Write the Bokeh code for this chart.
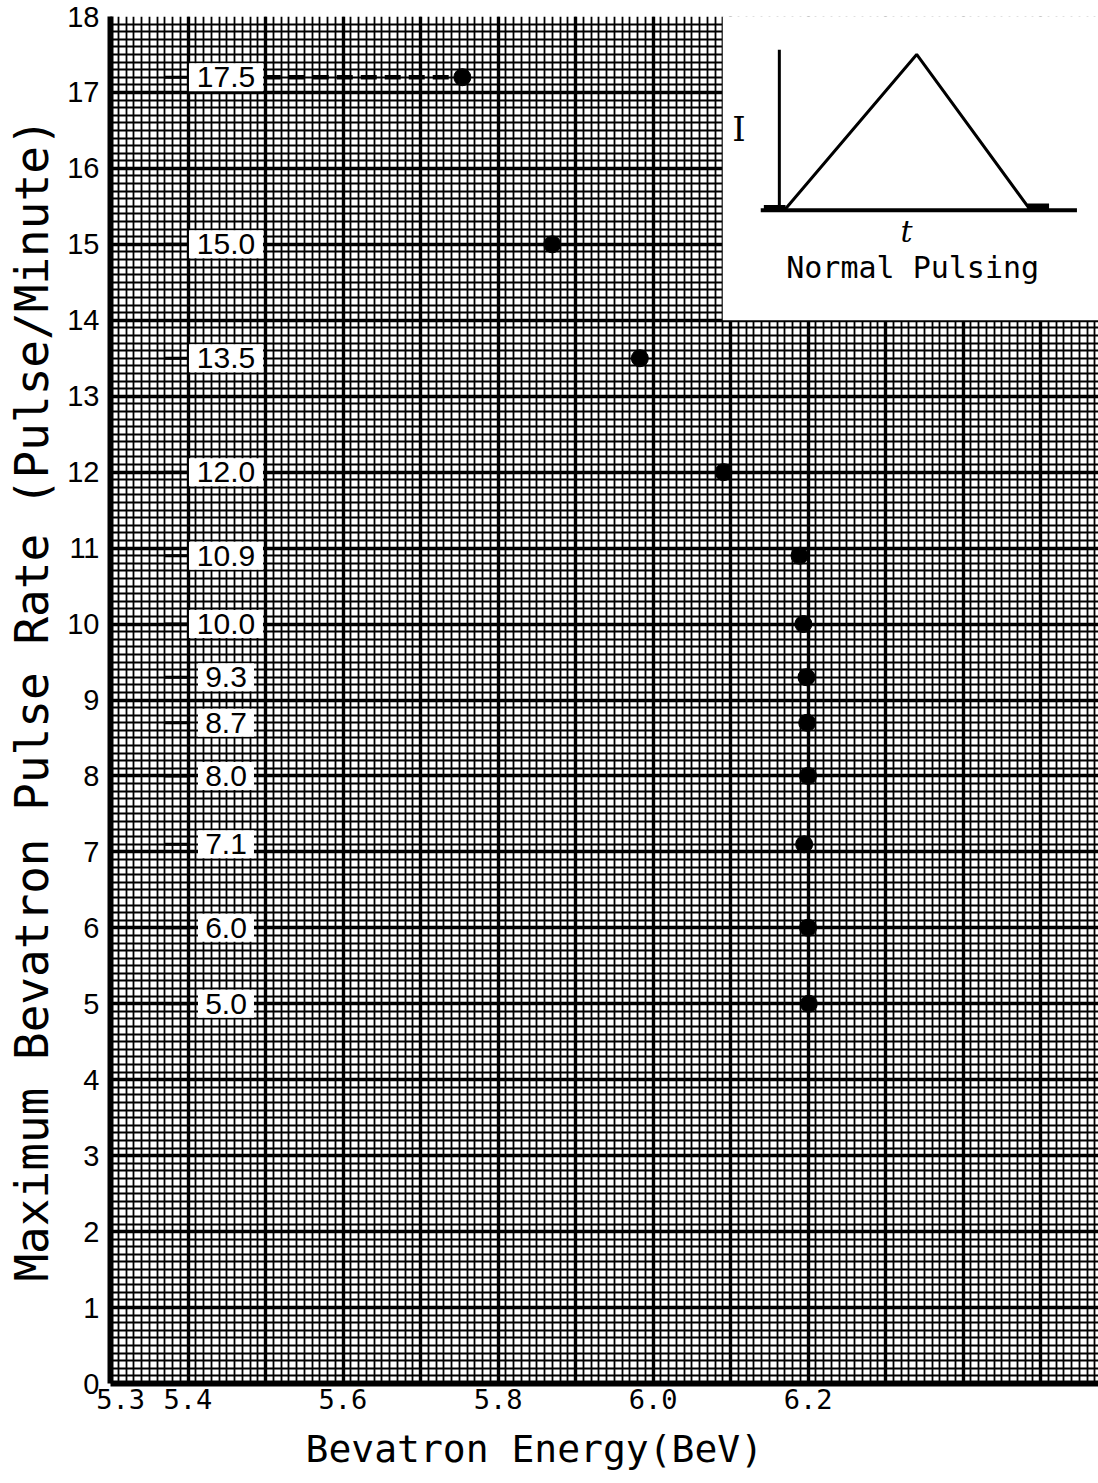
from bokeh.plotting import figure
from bokeh.models import FixedTicker, SingleIntervalTicker, Title
from bokeh.core.properties import value
from bokeh.embed import file_html
from bokeh.resources import INLINE

# ---------------- data ----------------
energy_bev = [5.754, 5.870, 5.983, 6.091, 6.189, 6.194, 6.198, 6.199, 6.200, 6.195, 6.200, 6.201]
pulse_rate = [17.2, 15.0, 13.5, 12.0, 10.9, 10.0, 9.3, 8.7, 8.0, 7.1, 6.0, 5.0]
rate_labels = ["17.5", "15.0", "13.5", "12.0", "10.9", "10.0", "9.3", "8.7", "8.0", "7.1", "6.0", "5.0"]
label_column_x = 5.449

x_ticks = [5.3, 5.4, 5.6, 5.8, 6.0, 6.2]
x_tick_labels = ["5.3", "5.4", "5.6", "5.8", "6.0", "6.2"]
y_ticks = list(range(0, 19))

# inset schematic (normal pulsing waveform), in its own t / I units
wave_t = [0.016, 0.443, 0.81]
wave_I = [0.0, 1.0, 0.0]
base_t = [-0.06, 0.96]
vaxis_I = [0.0, 1.03]
inset_box = dict(left=6.09, right=6.60, bottom=14.0, top=18.3)
inset_origin = (6.163, 15.45)
inset_scale = (0.40, 2.05)


def ix(t):
    return [inset_origin[0] + inset_scale[0] * v for v in t]


def iy(i):
    return [inset_origin[1] + inset_scale[1] * v for v in i]


# ---------------- figure ----------------
p = figure(width=1098, height=1483, x_range=(5.3, 6.5748), y_range=(0, 18),
           output_backend="svg", toolbar_location=None,
           min_border_left=110, min_border_right=0, min_border_top=16, min_border_bottom=97,
           background_fill_color="white", border_fill_color="white")

p.outline_line_color = None

# graph-paper grid
p.xgrid.ticker = SingleIntervalTicker(interval=0.1, num_minor_ticks=10)
p.ygrid.ticker = SingleIntervalTicker(interval=1, num_minor_ticks=10)
for g in (p.xgrid, p.ygrid):
    g.grid_line_color = "black"
    g.grid_line_width = 3.4
    g.minor_grid_line_color = "black"
    g.minor_grid_line_width = 1.8
    g.minor_grid_line_alpha = 1.0

# axes (first x tick label nudged right as in the original)
tick_pos = [x_ticks[0] + 0.013] + x_ticks[1:]
p.xaxis.ticker = FixedTicker(ticks=tick_pos)
p.xaxis.major_label_overrides = {tp: lab for tp, lab in zip(tick_pos, x_tick_labels)}
p.yaxis.ticker = FixedTicker(ticks=y_ticks)
for ax in (p.xaxis, p.yaxis):
    ax.axis_line_color = "black"
    ax.axis_line_width = 6
    ax.major_tick_in = 0
    ax.major_tick_out = 0
    ax.minor_tick_in = 0
    ax.minor_tick_out = 0
    ax.major_label_text_color = "black"

p.xaxis.major_label_text_font = "DejaVu Sans Mono"
p.xaxis.major_label_text_font_size = "27px"
p.xaxis.major_label_standoff = 5

p.yaxis.major_label_text_font = "Liberation Sans"
p.yaxis.major_label_text_font_size = "29px"
p.yaxis.major_label_standoff = 11
p.yaxis.axis_label = "Maximum Bevatron Pulse Rate (Pulse/Minute)"
p.yaxis.axis_label_text_font = "DejaVu Sans Mono"
p.yaxis.axis_label_text_font_size = "46px"
p.yaxis.axis_label_text_font_style = "normal"
p.yaxis.axis_label_text_color = "black"
p.yaxis.axis_label_standoff = 5

xtitle = Title(text="Bevatron Energy(BeV)", align="left", offset=195,
               text_font="DejaVu Sans Mono", text_font_size="38px", text_font_style="normal",
               text_color="black", standoff=26)
p.add_layout(xtitle, "below")

# inset white panel
p.quad(left=[inset_box["left"]], right=[inset_box["right"]],
       bottom=[inset_box["bottom"]], top=[inset_box["top"]],
       fill_color="white", line_color=None)

# inset waveform
p.line(ix(base_t), iy([0, 0]), line_color="black", line_width=4)
p.line(ix([0, 0]), iy(vaxis_I), line_color="black", line_width=3)
p.line(ix(wave_t), iy(wave_I), line_color="black", line_width=3)
p.line(ix([-0.05, 0.02]), iy([0.01, 0.01]), line_color="black", line_width=7)
p.line(ix([0.80, 0.87]), iy([0.02, 0.02]), line_color="black", line_width=7)
p.text(ix([-0.13]), iy([0.52]), text=["I"], text_font=value("DejaVu Serif"),
       text_font_size="34px", text_align="center", text_baseline="middle", text_color="black")
p.text(ix([0.41]), iy([-0.14]), text=["t"], text_font=value("DejaVu Serif"),
       text_font_style="italic", text_font_size="30px", text_align="center",
       text_baseline="middle", text_color="black")
p.text(ix([0.43]), iy([-0.37]), text=["Normal Pulsing"], text_font=value("DejaVu Sans Mono"),
       text_font_size="30px", text_align="center", text_baseline="middle", text_color="black")

# short pencil ticks at label levels
p.segment(x0=[5.37] * len(pulse_rate), y0=pulse_rate, x1=[5.40] * len(pulse_rate), y1=pulse_rate,
          line_color="black", line_width=3)

# dashed leader from first label to its point
p.segment(x0=[label_column_x + 0.05], y0=[pulse_rate[0]], x1=[energy_bev[0] - 0.015], y1=[pulse_rate[0]],
          line_color="black", line_width=4.5, line_dash="16 8")

# data points
p.scatter(energy_bev, pulse_rate, size=17, marker="circle", fill_color="black", line_color="black")

# value labels in white boxes
box_w = [18 * len(s) + 2 for s in rate_labels]
p.rect(x=[label_column_x] * len(pulse_rate), y=pulse_rate, width=box_w, height=[28] * len(pulse_rate),
       width_units="screen", height_units="screen", fill_color="white", line_color=None)
p.text(x=[label_column_x] * len(pulse_rate), y=pulse_rate, text=rate_labels,
       text_font=value("Liberation Sans"), text_font_size="30px", text_color="black",
       text_align="center", text_baseline="middle")

open("out.html", "w").write(file_html(p, INLINE))
